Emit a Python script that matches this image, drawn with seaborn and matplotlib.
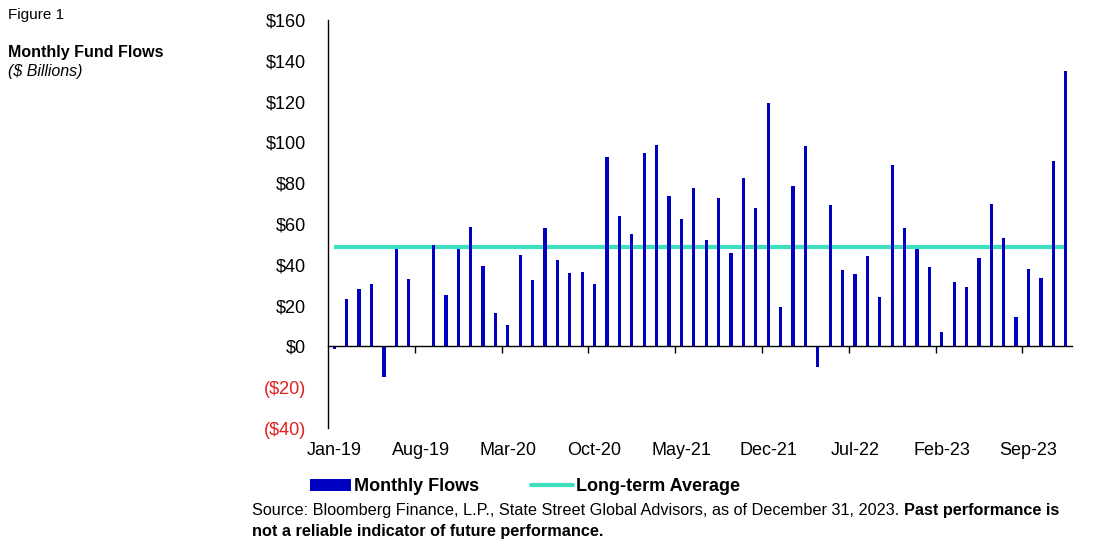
import matplotlib
matplotlib.use("Agg")
import matplotlib.pyplot as plt
import seaborn as sns
import numpy as np
import pandas as pd
from matplotlib.patches import Patch
from matplotlib.lines import Line2D

# ---------------- data ----------------
months = list(pd.date_range("2019-01-01", periods=60, freq="MS").strftime("%b-%y"))
flows = [-1.5, 23.0, 27.9, 30.8, -15.1, 47.6, 33.0, 0.0, 49.6, 25.3,
         47.6, 58.6, 39.2, 16.4, 10.5, 44.8, 32.7, 57.8, 42.2, 36.1,
         36.4, 30.4, 93.0, 63.7, 55.1, 94.8, 98.8, 73.5, 62.5, 77.6,
         52.2, 72.7, 45.6, 82.4, 67.6, 119.3, 19.5, 78.4, 98.0, -10.0,
         69.4, 37.4, 35.6, 44.3, 24.3, 89.1, 58.1, 47.8, 39.1, 7.1,
         31.8, 29.0, 43.2, 69.6, 53.3, 14.6, 37.7, 33.5, 91.1, 135.2]
long_term_avg = 48.5
tick_labels = ["Jan-19", "Aug-19", "Mar-20", "Oct-20", "May-21",
               "Dec-21", "Jul-22", "Feb-23", "Sep-23"]
y_ticks = [-40, -20, 0, 20, 40, 60, 80, 100, 120, 140, 160]
legend_labels = ["Monthly Flows", "Long-term Average"]

# ---------------- style ----------------
sns.set_theme(style="white")
plt.rcParams["font.family"] = ["Liberation Sans", "DejaVu Sans"]
plt.rcParams["text.color"] = "black"
plt.rcParams["xtick.color"] = "black"
plt.rcParams["ytick.color"] = "black"
plt.rcParams["axes.labelcolor"] = "black"

BAR = "#0000C0"
AVG = "#3FE0C0"
NEG = "#E02020"

fig = plt.figure(figsize=(11.12, 5.47), dpi=100)
ax = fig.add_axes([0.295, 0.2175, 0.669, 0.746])

df = pd.DataFrame({"month": months, "flow": flows})
sns.barplot(data=df, x="month", y="flow", color=BAR, saturation=1,
            width=0.27, linewidth=0, ax=ax, zorder=3)

x_pos = np.arange(len(months))
ax.plot(x_pos, np.full(len(months), long_term_avg), color=AVG, lw=3.0,
        zorder=2, solid_capstyle="butt")

ax.set_xlim(-0.5, len(months) - 0.5)
ax.set_ylim(min(y_ticks), max(y_ticks))
ax.set_xlabel("")
ax.set_ylabel("")

for s in ["top", "right"]:
    ax.spines[s].set_visible(False)
ax.spines["left"].set_color("black")
ax.spines["left"].set_linewidth(1.0)
ax.spines["bottom"].set_position(("data", 0))
ax.spines["bottom"].set_color("black")
ax.spines["bottom"].set_linewidth(1.0)
ax.spines["bottom"].set_zorder(4)

label_pos = [months.index(l) for l in tick_labels]
boundaries = [p - 0.5 for p in label_pos[1:]]
ax.set_xticks(boundaries)
ax.tick_params(axis="x", bottom=True, length=5, width=1, direction="out",
               color="black", labelbottom=False)

sec = ax.secondary_xaxis("bottom")
sec.set_xticks(label_pos, labels=tick_labels)
sec.tick_params(length=0, pad=10, labelsize=13, labelcolor="black")
sec.spines["bottom"].set_visible(False)

ax.set_yticks(y_ticks)
ax.set_yticklabels([f"${v}" if v >= 0 else f"(${-v})" for v in y_ticks])
ax.tick_params(axis="y", left=False, length=0, pad=16, labelsize=13)
for v, lab in zip(y_ticks, ax.get_yticklabels()):
    lab.set_color(NEG if v < 0 else "black")

# ---------------- titles ----------------
fig.text(0.007, 0.973, "Figure 1", fontsize=11, va="center", ha="left")
fig.text(0.007, 0.904, "Monthly Fund Flows", fontsize=11.5,
         fontweight="bold", va="center", ha="left")
fig.text(0.007, 0.869, "($ Billions)", fontsize=11.5, style="italic",
         va="center", ha="left")

# ---------------- legend ----------------
handles = [Patch(facecolor=BAR, edgecolor="none"),
           Line2D([], [], color=AVG, lw=3.0)]
fig.legend(handles, legend_labels, loc="center", bbox_to_anchor=(0.4717, 0.1097),
           ncol=2, frameon=False, prop={"weight": "bold", "size": 13},
           handlelength=2.3, handleheight=0.6, handletextpad=0.15,
           columnspacing=2.9, borderpad=0, borderaxespad=0)

# ---------------- source ----------------
renderer = fig.canvas.get_renderer()
t1 = fig.text(0.2266, 0.066, "Source: Bloomberg Finance, L.P., State Street Global Advisors, "
              "as of December 31, 2023. ", fontsize=11.7, va="center", ha="left")
bb = t1.get_window_extent(renderer=renderer)
x_end = bb.x1 / fig.bbox.width
fig.text(x_end, 0.066, "Past performance is", fontsize=11.7, fontweight="bold",
         va="center", ha="left")
fig.text(0.2266, 0.029, "not a reliable indicator of future performance.",
         fontsize=11.7, fontweight="bold", va="center", ha="left")

fig.savefig("out.png", dpi=100)
